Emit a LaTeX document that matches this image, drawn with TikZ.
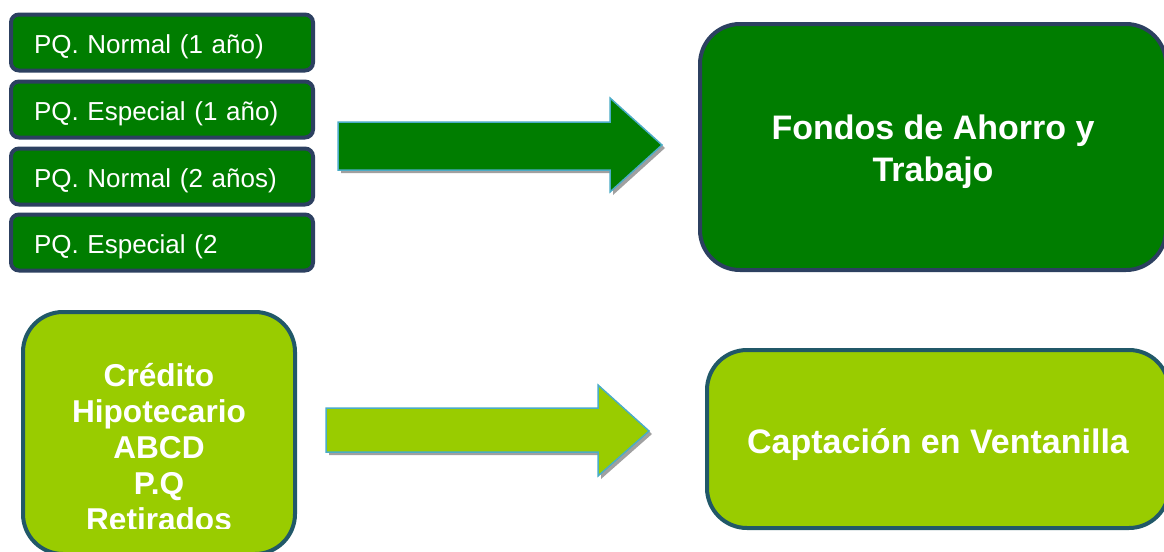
\documentclass[tikz,border=0pt]{standalone}
\usepackage{fontspec}
\setmainfont{Liberation Sans}
\definecolor{fondoGreen}{RGB}{0,125,0}
\definecolor{fondoNavy}{RGB}{44,64,96}
\definecolor{creditLime}{RGB}{153,204,0}
\definecolor{creditTeal}{RGB}{33,88,104}
\definecolor{arrowBlue}{RGB}{75,172,198}
\definecolor{shadowGray}{RGB}{160,160,160}
\usetikzlibrary{positioning,shadows}

\begin{document}
\begin{tikzpicture}[x=0.5pt, y=-0.5pt,
  item/.style={draw=fondoNavy, line width=2pt, fill=fondoGreen, rounded corners=4pt,
               text width=128pt, inner xsep=11.5pt, minimum height=28pt, align=left,
               text height=11pt, text depth=0pt,
               text=white, font=\fontsize{13}{15}\selectfont},
  bigbox/.style={line width=2pt, rounded corners=20pt},
  bigtext/.style={text=white, align=center, font=\bfseries\fontsize{17}{21}\selectfont},
  blockarrow/.style={draw=arrowBlue, line width=0.75pt,
                     drop shadow={shadow xshift=1.5pt, shadow yshift=-1.5pt, fill=shadowGray, opacity=1}}
]
  \useasboundingbox (0,0) rectangle (1164,552);
  \fill[white] (0,0) rectangle (1164,552);
  \clip (0,0) rectangle (1164,552);

  % plazos del PQ
  \node[item] (pq1) at (162,42.5)  {PQ. Normal (1 año)};
  \node[item] (pq2) at (162,109.5) {PQ. Especial (1 año)};
  \node[item] (pq3) at (162,176.5) {PQ. Normal (2 años)};
  \node[item] (pq4) at (162,242.5) {PQ. Especial (2};

  \draw[blockarrow, fill=fondoGreen] (338,122) -- (610,122) -- (610,98) -- (662,145)
    -- (610,192) -- (610,170) -- (338,170) -- cycle;

  \node[bigbox, draw=fondoNavy, fill=fondoGreen, minimum width=233pt, minimum height=123pt]
    (fondos) at (933,147) {};
  \node[bigtext] (fondostxt) at ([yshift=-2.25pt]fondos.center) {Fondos de Ahorro y\\Trabajo};

  % parte de abajo
  \node[bigbox, draw=creditTeal, fill=creditLime, minimum width=136pt, minimum height=121pt]
    (credito) at (159,433) {};
  \begin{scope}
    \clip (20,300) rectangle (300,528);
    \node[bigtext, font=\bfseries\fontsize{15.8}{18}\selectfont]
      (creditotxt) at (159,447) {Crédito\\Hipotecario\\ABCD\\P.Q\\Retirados};
  \end{scope}

  \draw[blockarrow, fill=creditLime] (326,408) -- (598,408) -- (598,385) -- (649,431)
    -- (598,476) -- (598,452) -- (326,452) -- cycle;

  \node[bigbox, draw=creditTeal, fill=creditLime, minimum width=231pt, minimum height=89pt]
    (ventanilla) at (938,439) {};
  \node[bigtext] (ventanillatxt) at ([yshift=-3pt]ventanilla.center) {Captación en Ventanilla};
\end{tikzpicture}
\end{document}
